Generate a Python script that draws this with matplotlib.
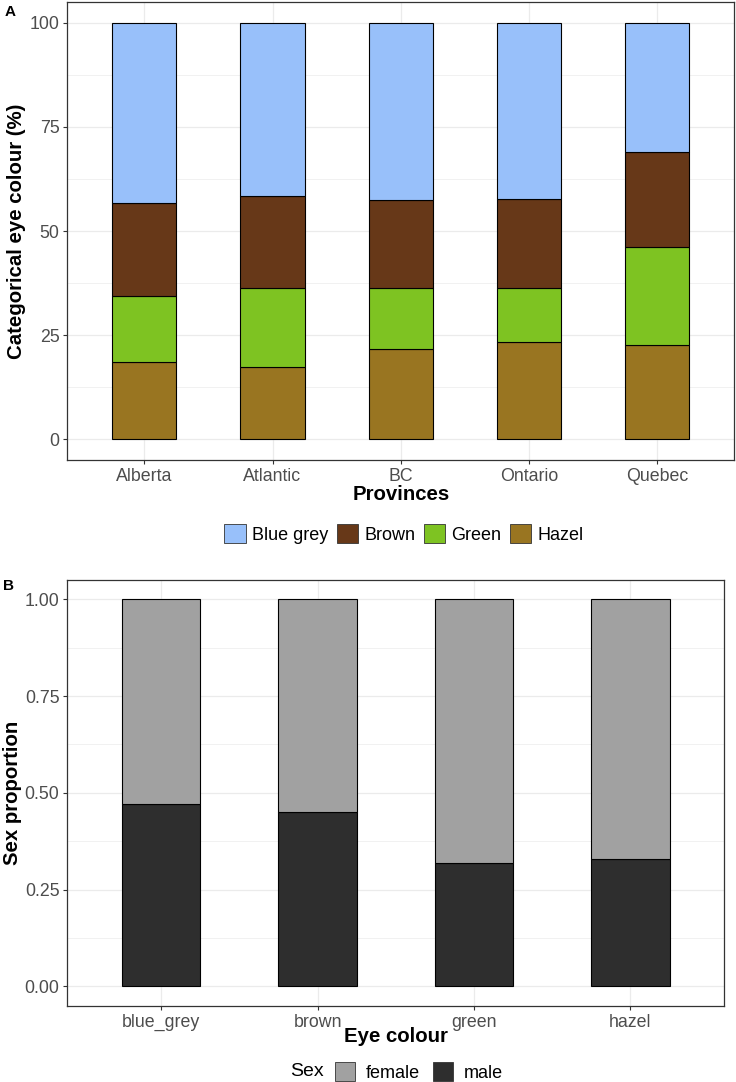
import matplotlib
matplotlib.use("Agg")
import matplotlib.pyplot as plt
from matplotlib.patches import Patch
from matplotlib.ticker import MultipleLocator

plt.rcParams['font.family'] = ['Liberation Sans', 'DejaVu Sans']

# panel A data: percent of each eye colour per province
provinces = ["Alberta", "Atlantic", "BC", "Ontario", "Quebec"]
hazel = [18.6, 17.3, 21.6, 23.3, 22.6]
green = [15.9, 18.9, 14.7, 13.0, 23.5]
brown = [22.2, 22.1, 21.2, 21.3, 22.9]
blue_grey = [43.3, 41.7, 42.5, 42.4, 31.0]

# panel B data: sex proportion per eye colour
eye_colours = ["blue_grey", "brown", "green", "hazel"]
male = [0.47, 0.45, 0.32, 0.33]
female = [0.53, 0.55, 0.68, 0.67]

W, H = 736, 1082
GRID = "#EBEBEB"
BORDER = "#333333"
TICKTXT = "#4D4D4D"


def px_axes(fig, x0, y0, x1, y1):
    return fig.add_axes([x0 / W, 1 - y1 / H, (x1 - x0) / W, (y1 - y0) / H])


def style_axes(ax, major, minor):
    ax.set_facecolor("white")
    ax.yaxis.set_major_locator(MultipleLocator(major))
    ax.yaxis.set_minor_locator(MultipleLocator(minor))
    ax.grid(True, which="major", color=GRID, lw=0.9, zorder=0)
    ax.grid(True, which="minor", axis="y", color=GRID, lw=0.5, zorder=0)
    ax.set_axisbelow(True)
    for s in ax.spines.values():
        s.set_color(BORDER)
        s.set_linewidth(0.9)
    ax.tick_params(which="major", length=3.2, width=0.8, color=BORDER,
                   labelsize=12.8, labelcolor=TICKTXT, pad=2.5)
    ax.tick_params(which="minor", length=0)


fig = plt.figure(figsize=(W / 100, H / 100), dpi=100)

# ---- panel A
ax1 = px_axes(fig, 67.3, 2, 734.3, 460)
style_axes(ax1, 25, 12.5)
xa = range(1, len(provinces) + 1)
cols_a = {"Hazel": "#997521", "Green": "#7EC322", "Brown": "#673818", "Blue grey": "#98C0FA"}
bottom = [0.0] * len(provinces)
for name, vals in [("Hazel", hazel), ("Green", green), ("Brown", brown), ("Blue grey", blue_grey)]:
    ax1.bar(xa, vals, width=0.5, bottom=bottom, color=cols_a[name],
            edgecolor="black", linewidth=0.8, zorder=2)
    bottom = [b + v for b, v in zip(bottom, vals)]
ax1.set_xlim(0.4, len(provinces) + 0.6)
ax1.set_ylim(-5, 105)
ax1.set_xticks(list(xa))
ax1.set_xticklabels(provinces)
ax1.set_yticklabels([])
ax1.set_yticks([0, 25, 50, 75, 100])
ax1.set_yticklabels(["0", "25", "50", "75", "100"])
ax1.set_xlabel("Provinces", fontsize=14.7, fontweight="bold", va="center")
ax1.xaxis.set_label_coords(0.5, (460 - 494) / 458)
ax1.set_ylabel("Categorical eye colour (%)", fontsize=14.7, fontweight="bold", va="center")
ax1.yaxis.set_label_coords((17 - 67.3) / 667, 0.5)

handles_a = [Patch(facecolor=cols_a[n], edgecolor="#333333", linewidth=0.6, label=n)
             for n in ["Blue grey", "Brown", "Green", "Hazel"]]
fig.legend(handles=handles_a, loc="center", bbox_to_anchor=(404 / W, 1 - 534 / H),
           ncol=4, frameon=False, fontsize=13, handlelength=1.2, handleheight=1.2,
           handletextpad=0.35, columnspacing=0.45, borderpad=0)
fig.text(5 / W, 1 - 12 / H, "A", fontsize=11, fontweight="bold", va="center", ha="left")

# ---- panel B
ax2 = px_axes(fig, 67.3, 580, 724.3, 1005.7)
style_axes(ax2, 0.25, 0.125)
xb = range(1, len(eye_colours) + 1)
ax2.bar(xb, male, width=0.5, color="#2E2E2E", edgecolor="black", linewidth=0.8, zorder=2)
ax2.bar(xb, female, width=0.5, bottom=male, color="#A1A1A1", edgecolor="black",
        linewidth=0.8, zorder=2)
ax2.set_xlim(0.4, len(eye_colours) + 0.6)
ax2.set_ylim(-0.05, 1.05)
ax2.set_xticks(list(xb))
ax2.set_xticklabels(eye_colours)
ax2.set_yticks([0, 0.25, 0.5, 0.75, 1.0])
ax2.set_yticklabels(["0.00", "0.25", "0.50", "0.75", "1.00"])
ax2.set_xlabel("Eye colour", fontsize=14.7, fontweight="bold", va="center")
ax2.xaxis.set_label_coords(0.5, (1005.7 - 1037) / 425.7)
ax2.set_ylabel("Sex proportion", fontsize=14.7, fontweight="bold", va="center")
ax2.yaxis.set_label_coords((13 - 67.3) / 657, 0.5)

handles_b = [Patch(facecolor="#A1A1A1", edgecolor="#333333", linewidth=0.6, label="female"),
             Patch(facecolor="#2E2E2E", edgecolor="#333333", linewidth=0.6, label="male")]
fig.legend(handles=handles_b, loc="center", bbox_to_anchor=(419 / W, 1 - 1072 / H),
           ncol=2, frameon=False, fontsize=13, handlelength=1.1, handleheight=1.2,
           handletextpad=0.6, columnspacing=0.7, borderpad=0)
fig.text(290 / W, 1 - 1072 / H, "Sex", fontsize=14, va="center", ha="left")
fig.text(3 / W, 1 - 586 / H, "B", fontsize=11, fontweight="bold", va="center", ha="left")

fig.savefig("out.png", dpi=100, facecolor="white")
